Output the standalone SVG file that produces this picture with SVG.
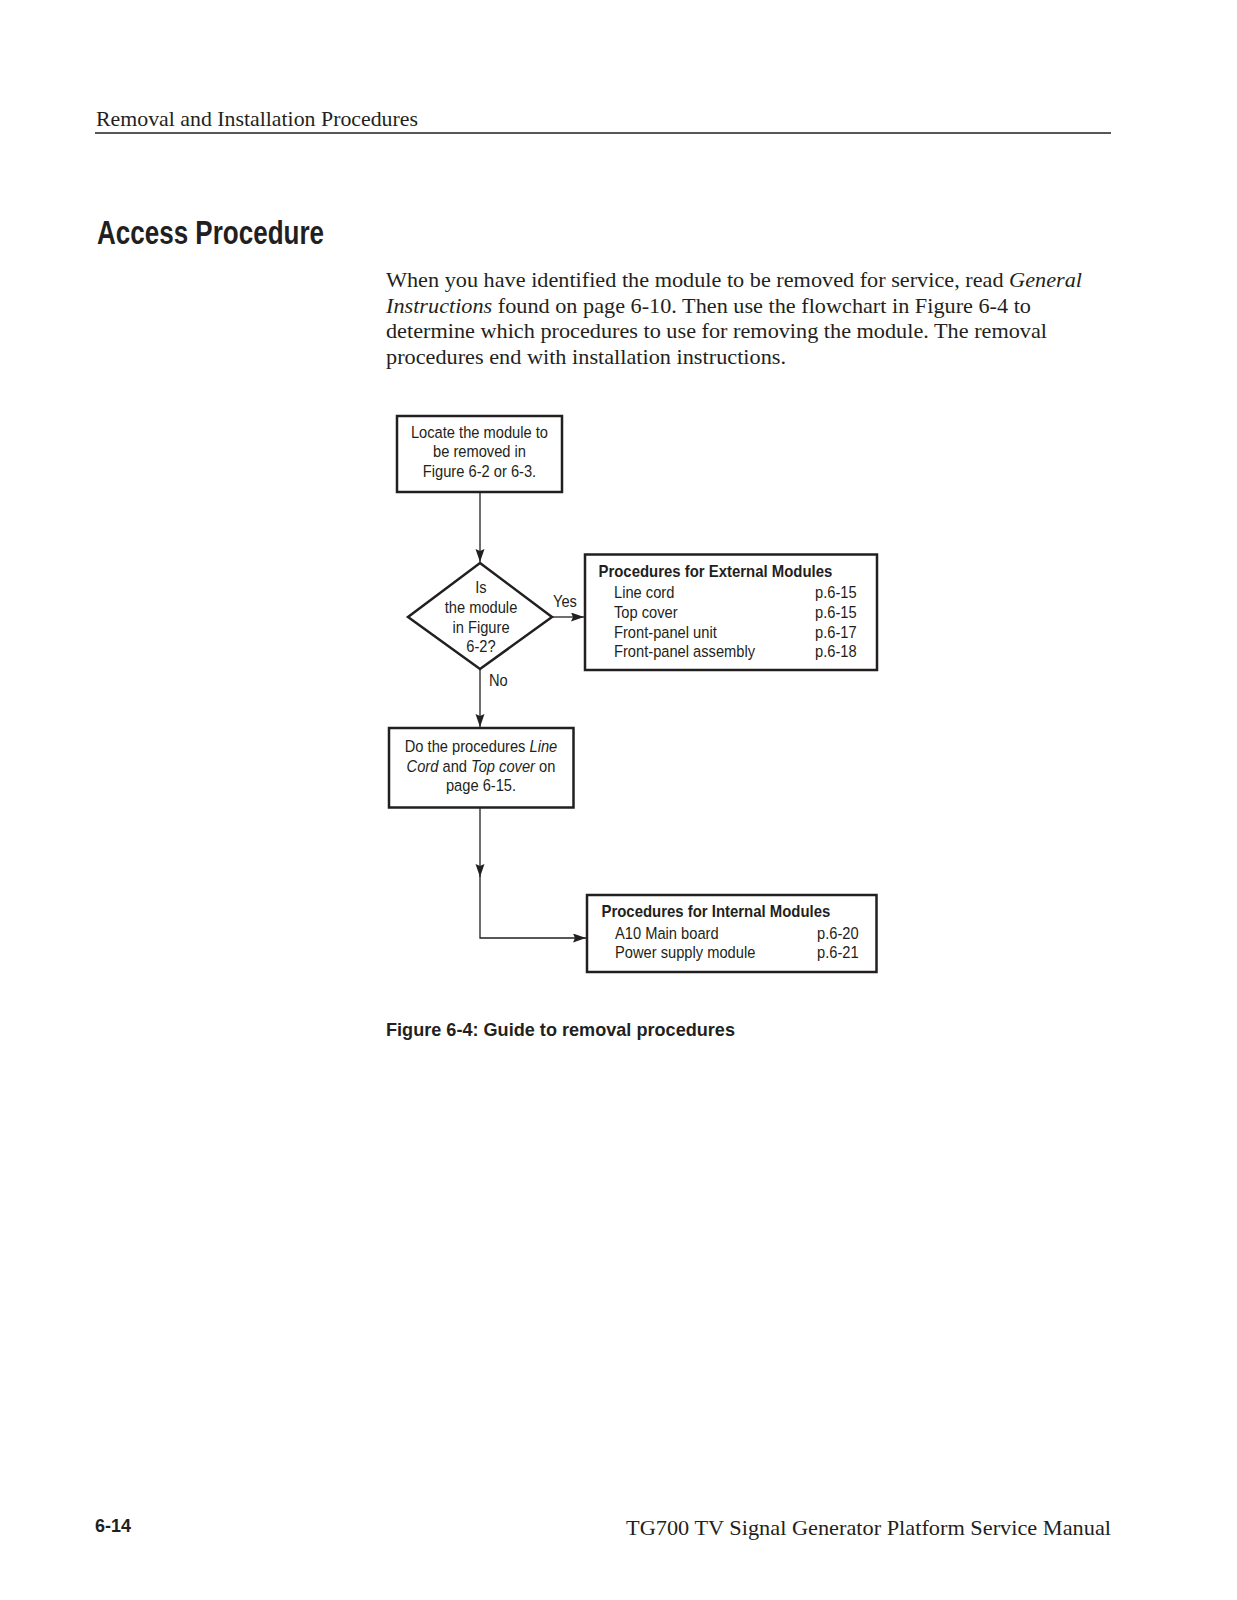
<svg xmlns="http://www.w3.org/2000/svg" width="1237" height="1600" viewBox="0 0 1237 1600">
<defs>
<style>
.serif{font-family:"Liberation Serif","DejaVu Serif",serif;fill:#231f20;}
.sans{font-family:"Liberation Sans Narrow","Liberation Sans",Arial,sans-serif;fill:#231f20;}
.fc{font-family:"Liberation Sans",Arial,sans-serif;font-size:16.5px;fill:#231f20;}
.b{font-weight:bold;}
.box{fill:#fff;stroke:#231f20;stroke-width:2.5;}
.conn{fill:none;stroke:#231f20;stroke-width:1.3;}
</style>
<marker id="arr" markerUnits="userSpaceOnUse" markerWidth="15" markerHeight="11" refX="13" refY="4.5" orient="auto">
<path d="M0,0 L13,4.5 L0,9 L2,4.5 Z" fill="#231f20"/>
</marker>
</defs>
<rect width="1237" height="1600" fill="#fff"/>

<!-- page header -->
<text class="serif" x="96" y="126" font-size="21" textLength="322" lengthAdjust="spacingAndGlyphs">Removal and Installation Procedures</text>
<line x1="95" y1="133" x2="1111" y2="133" stroke="#231f20" stroke-width="1.5"/>
<text class="sans b" x="97" y="244" font-size="33" textLength="227" lengthAdjust="spacingAndGlyphs">Access Procedure</text>

<g class="serif" font-size="21">
<text x="386" y="287" textLength="696" lengthAdjust="spacingAndGlyphs">When you have identified the module to be removed for service, read <tspan font-style="italic">General</tspan></text>
<text x="386" y="312.5" textLength="645" lengthAdjust="spacingAndGlyphs"><tspan font-style="italic">Instructions</tspan> found on page 6-10. Then use the flowchart in Figure 6-4 to</text>
<text x="386" y="338" textLength="661" lengthAdjust="spacingAndGlyphs">determine which procedures to use for removing the module. The removal</text>
<text x="386" y="363.5" textLength="400" lengthAdjust="spacingAndGlyphs">procedures end with installation instructions.</text>
</g>

<!-- connectors -->
<g id="connectors">
<path class="conn" d="M480,492 V562" marker-end="url(#arr)"/>
<path class="conn" d="M552,617 H584" marker-end="url(#arr)"/>
<path class="conn" d="M480,669 V727" marker-end="url(#arr)"/>
<path class="conn" d="M480,808 V877" marker-end="url(#arr)"/>
<path class="conn" d="M480,876 V938 H586" marker-end="url(#arr)"/>
<text class="fc" x="553" y="607" transform="matrix(0.89,0,0,1,60.83,0)">Yes</text>
<text class="fc" x="489" y="686" transform="matrix(0.89,0,0,1,53.79,0)">No</text>
</g>

<g id="node-locate">
<rect class="box" x="397" y="416" width="165" height="76"/>
<text class="fc" text-anchor="middle" transform="matrix(0.89,0,0,1,52.745,0)"><tspan x="479.5" y="438">Locate the module to</tspan><tspan x="479.5" y="457.5">be removed in</tspan><tspan x="479.5" y="477">Figure 6-2 or 6-3.</tspan></text>
</g>

<g id="node-decision">
<polygon class="box" points="480,563 552,617 480,669 408,617"/>
<text class="fc" text-anchor="middle" transform="matrix(0.89,0,0,1,52.91,0)"><tspan x="481" y="593">Is</tspan><tspan x="481" y="613">the module</tspan><tspan x="481" y="633">in Figure</tspan><tspan x="481" y="652">6-2?</tspan></text>
</g>

<g id="node-external">
<rect class="box" x="585" y="554.5" width="292" height="115.5"/>
<text class="fc b" x="598.5" y="577" transform="matrix(0.905,0,0,1,56.86,0)">Procedures for External Modules</text>
<g transform="matrix(0.89,0,0,1,67.54,0)">
<text class="fc" x="614" y="598">Line cord</text>
<text class="fc" x="614" y="618">Top cover</text>
<text class="fc" x="614" y="638">Front-panel unit</text>
<text class="fc" x="614" y="657.5">Front-panel assembly</text>
</g>
<g transform="matrix(0.89,0,0,1,89.65,0)">
<text class="fc" x="815" y="598">p.6-15</text>
<text class="fc" x="815" y="618">p.6-15</text>
<text class="fc" x="815" y="638">p.6-17</text>
<text class="fc" x="815" y="657.5">p.6-18</text>
</g>
</g>

<g id="node-lineandtop">
<rect class="box" x="389" y="728" width="184.5" height="79.5"/>
<text class="fc" text-anchor="middle" transform="matrix(0.89,0,0,1,52.91,0)"><tspan x="481" y="752">Do the procedures <tspan font-style="italic">Line</tspan></tspan><tspan x="481" y="772"><tspan font-style="italic">Cord</tspan> and <tspan font-style="italic">Top cover</tspan> on</tspan><tspan x="481" y="791">page 6-15.</tspan></text>
</g>

<g id="node-internal">
<rect class="box" x="587" y="895" width="289.5" height="77"/>
<text class="fc b" x="601.5" y="917.5" transform="matrix(0.905,0,0,1,57.14,0)">Procedures for Internal Modules</text>
<g transform="matrix(0.89,0,0,1,67.65,0)">
<text class="fc" x="615" y="939">A10 Main board</text>
<text class="fc" x="615" y="958.5">Power supply module</text>
</g>
<g transform="matrix(0.89,0,0,1,89.87,0)">
<text class="fc" x="817" y="939">p.6-20</text>
<text class="fc" x="817" y="958.5">p.6-21</text>
</g>
</g>

<text class="sans b" x="386" y="1036" font-size="19" textLength="349" lengthAdjust="spacingAndGlyphs">Figure 6-4: Guide to removal procedures</text>

<text class="sans b" x="95" y="1532" font-size="19" textLength="36" lengthAdjust="spacingAndGlyphs">6-14</text>
<text class="serif" x="626" y="1535" font-size="21" textLength="485" lengthAdjust="spacingAndGlyphs">TG700 TV  Signal Generator Platform Service Manual</text>
</svg>
